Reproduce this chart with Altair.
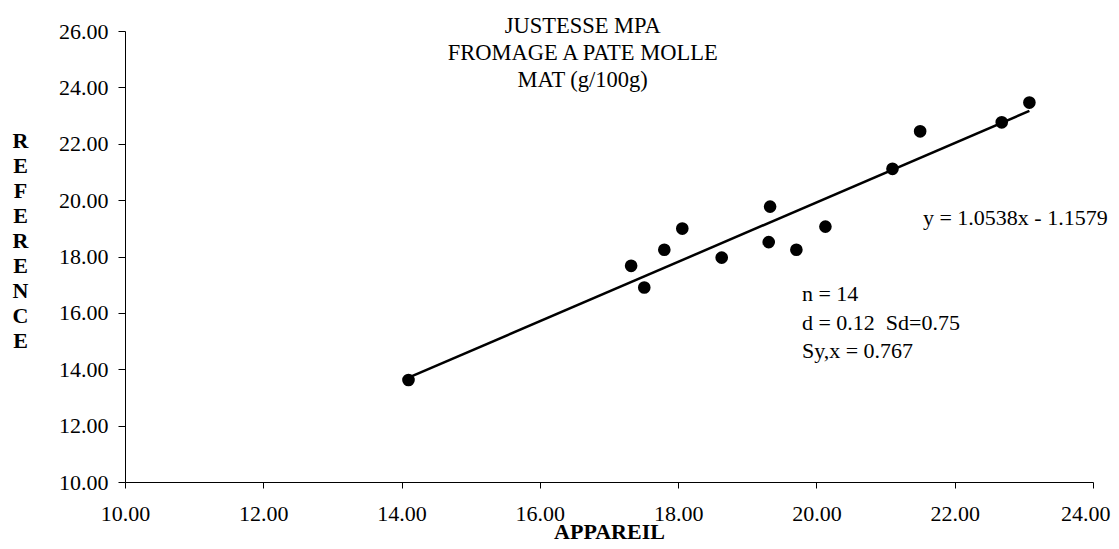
import altair as alt
import pandas as pd

# Data
appareil = [14.10, 17.32, 17.51, 17.80, 18.06, 18.63, 19.31, 19.33, 19.71, 20.13, 21.10, 21.50, 22.68, 23.08]
reference = [13.62, 17.67, 16.90, 18.24, 18.99, 17.96, 18.51, 19.77, 18.24, 19.06, 21.11, 22.44, 22.76, 23.46]

slope = 1.0538
intercept = -1.1579

title_lines = ["JUSTESSE MPA", "FROMAGE A PATE MOLLE", "MAT (g/100g)"]
eq_text = "y = 1.0538x - 1.1579"
stat_lines = ["n = 14", "d = 0.12\u00a0 Sd=0.75", "Sy,x = 0.767"]
tick_vals_x = [10, 12, 14, 16, 18, 20, 22, 24]
tick_vals_y = [10, 12, 14, 16, 18, 20, 22, 24, 26]

FONT = "Liberation Serif"

pts = pd.DataFrame({"APPAREIL": appareil, "REFERENCE": reference})
line_df = pd.DataFrame({"APPAREIL": [min(appareil), max(appareil)]})

xscale = alt.Scale(domain=[10, 24], nice=False, zero=False)
yscale = alt.Scale(domain=[10, 26], nice=False, zero=False)

last_x = tick_vals_x[-1]
xaxis = alt.Axis(
    values=tick_vals_x, format=".2f", grid=False,
    title="APPAREIL", titleFont=FONT, titleFontSize=22, titleFontWeight="bold",
    titleColor="black", titleBaseline="bottom", titleY=61,
    labelFont=FONT, labelFontSize=22, labelColor="black", labelPadding=15,
    labelAlign={"condition": {"test": f"datum.value === {last_x}", "value": "right"}, "value": "center"},
    labelOffset={"condition": {"test": f"datum.value === {last_x}", "value": 17}, "value": 0},
    tickColor="black", tickSize=6, domainColor="black", labelFlush=False,
)
yaxis = alt.Axis(
    values=tick_vals_y, format=".2f", grid=False,
    title=list("REFERENCE"), titleFont=FONT, titleFontSize=22, titleFontWeight="bold",
    titleColor="black", titleAngle=0, titleAlign="center", titleBaseline="top",
    titleX=-105, titleY=99, titleLineHeight=25,
    labelFont=FONT, labelFontSize=22, labelColor="black", labelPadding=10,
    tickColor="black", tickSize=7, domainColor="black", labelFlush=False,
)

points = alt.Chart(pts).mark_point(filled=True, color="black", size=160, opacity=1).encode(
    x=alt.X("APPAREIL:Q", scale=xscale, axis=xaxis),
    y=alt.Y("REFERENCE:Q", scale=yscale, axis=yaxis),
)

fit = alt.Chart(line_df).transform_calculate(
    REFERENCE=f"{slope} * datum.APPAREIL + ({intercept})"
).mark_line(color="black", strokeWidth=2.5).encode(
    x=alt.X("APPAREIL:Q", scale=xscale),
    y=alt.Y("REFERENCE:Q", scale=yscale),
)

title = alt.Chart(pd.DataFrame({"t": ["\n".join(title_lines)]})).mark_text(
    font=FONT, fontSize=22.5, color="black", align="center", baseline="top",
    lineBreak="\n", lineHeight=27,
).encode(x=alt.datum(16.62), y=alt.datum(26.55), text="t:N")

eq = alt.Chart(pd.DataFrame({"t": [eq_text]})).mark_text(
    font=FONT, fontSize=22, color="black", align="left", baseline="middle",
).encode(x=alt.datum(21.54), y=alt.datum(19.35), text="t:N")

stats = alt.Chart(pd.DataFrame({"t": ["\n".join(stat_lines)]})).mark_text(
    font=FONT, fontSize=22, color="black", align="left", baseline="top",
    lineBreak="\n", lineHeight=28.5,
).encode(x=alt.datum(19.79), y=alt.datum(17.02), text="t:N")

chart = alt.layer(fit, points, title, eq, stats).properties(
    width=968, height=451,
    autosize=alt.AutoSizeParams(type="none"),
    padding={"left": 117, "top": 23, "right": 18, "bottom": 59},
    background="white",
).configure_view(strokeWidth=0)

chart.save("out.html", embed_options={"renderer": "svg", "actions": False})
